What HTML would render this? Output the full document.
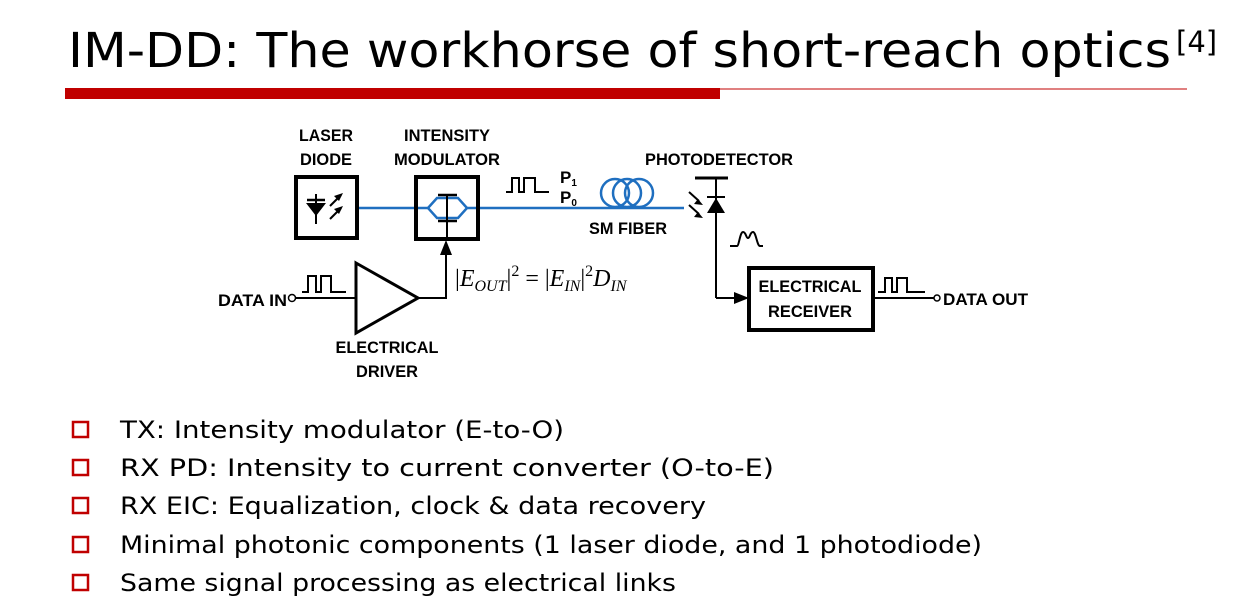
<!DOCTYPE html>
<html><head><meta charset="utf-8"><style>
html,body{margin:0;padding:0;background:#fff;}
svg{display:block;}
.t{font-family:"DejaVu Sans","Liberation Sans",sans-serif;}
.l{font-family:"Liberation Sans",Arial,sans-serif;font-weight:bold;font-size:17px;}
.m{font-family:"Liberation Serif","DejaVu Serif",serif;font-size:24px;}
</style></head><body>
<svg width="1259" height="613" viewBox="0 0 1259 613" xmlns="http://www.w3.org/2000/svg">
<text class="t" x="68" y="67" font-size="48" textLength="1103" lengthAdjust="spacingAndGlyphs">IM-DD: The workhorse of short-reach optics</text>
<text class="t" x="1176" y="52" font-size="29">[4]</text>
<rect x="65" y="88" width="655" height="11" fill="#c00000"/>
<line x1="720" y1="89" x2="1187" y2="89" stroke="#c00000" stroke-width="1"/>

<g class="l" text-anchor="middle">
<text x="326" y="141" textLength="54" lengthAdjust="spacingAndGlyphs">LASER</text><text x="326" y="165" textLength="52" lengthAdjust="spacingAndGlyphs">DIODE</text>
<text x="447" y="141" textLength="86" lengthAdjust="spacingAndGlyphs">INTENSITY</text><text x="447" y="165" textLength="106" lengthAdjust="spacingAndGlyphs">MODULATOR</text>
<text x="719" y="165" textLength="148" lengthAdjust="spacingAndGlyphs">PHOTODETECTOR</text>
<text x="628" y="234" textLength="78" lengthAdjust="spacingAndGlyphs">SM FIBER</text>
<text x="387" y="353" textLength="103" lengthAdjust="spacingAndGlyphs">ELECTRICAL</text><text x="387" y="377" textLength="62" lengthAdjust="spacingAndGlyphs">DRIVER</text>
<text x="810" y="292" textLength="103" lengthAdjust="spacingAndGlyphs">ELECTRICAL</text><text x="810" y="317" textLength="84" lengthAdjust="spacingAndGlyphs">RECEIVER</text>
</g>
<text class="l" x="218" y="306" textLength="69" lengthAdjust="spacingAndGlyphs">DATA IN</text>
<text class="l" x="943" y="305" textLength="85" lengthAdjust="spacingAndGlyphs">DATA OUT</text>
<text class="l" x="560" y="183" font-size="15">P<tspan font-size="10" dy="3">1</tspan></text>
<text class="l" x="560" y="203" font-size="15">P<tspan font-size="10" dy="3">0</tspan></text>

<g stroke="#1f6fc0" stroke-width="2.5" fill="none">
<line x1="358" y1="208" x2="428" y2="208"/>
<path d="M428 208 L437 198 L458 198 L467 208 L458 218 L437 218 Z"/>
<line x1="467" y1="208" x2="684" y2="208"/>
<circle cx="615" cy="193" r="14"/><circle cx="627" cy="193" r="14"/><circle cx="639" cy="193" r="14"/>
</g>

<g stroke="#000" fill="none">
<rect x="296" y="177" width="61" height="61" stroke-width="4"/>
<rect x="416" y="177" width="62" height="62" stroke-width="4"/>
<rect x="749" y="268" width="124" height="62" stroke-width="4"/>
<line x1="438" y1="195" x2="457" y2="195" stroke-width="2.5"/>
<line x1="438" y1="221" x2="457" y2="221" stroke-width="2.5"/>
<line x1="447" y1="195" x2="447" y2="240" stroke-width="2"/>
<line x1="316" y1="194" x2="316" y2="224" stroke-width="2"/>
<line x1="307" y1="200" x2="325" y2="200" stroke-width="2.5"/>
<line x1="330" y1="206" x2="341" y2="195" stroke-width="2"/>
<line x1="330" y1="219" x2="341" y2="208" stroke-width="2"/>
<path d="M356 263 L418 298 L356 333 Z" stroke-width="3"/>
<line x1="296" y1="298" x2="356" y2="298" stroke-width="2"/>
<polyline points="418,298 446,298 446,250" stroke-width="2"/>
<circle cx="292" cy="298" r="3.5" stroke-width="1.5"/>
<polyline points="302,292 308,292 308,276 316,276 316,292 321,292 321,276 331,276 331,292 346,292" stroke-width="2"/>
<polyline points="506,192 512,192 512,178 519,178 519,192 524,192 524,178 535,178 535,192 549,192" stroke-width="2"/>
<line x1="695" y1="178" x2="728" y2="178" stroke-width="3"/>
<line x1="716" y1="178" x2="716" y2="298" stroke-width="2"/>
<line x1="707" y1="197" x2="725" y2="197" stroke-width="2"/>
<line x1="689" y1="192" x2="699" y2="201" stroke-width="2"/>
<line x1="689" y1="205" x2="699" y2="214" stroke-width="2"/>
<line x1="716" y1="298" x2="736" y2="298" stroke-width="2"/>
<path d="M730 246 L737 246 C739 246 740 232 743 232 C746 232 746 238 748 238 C750 238 750 232 753 232 C756 232 757 246 760 246 L763 246" stroke-width="2"/>
<line x1="873" y1="298" x2="934" y2="298" stroke-width="2"/>
<circle cx="937" cy="298" r="3" stroke-width="1.5"/>
<polyline points="878,292 885,292 885,278 892,278 892,292 897,292 897,278 907,278 907,292 925,292" stroke-width="2"/>
</g>
<g fill="#000">
<path d="M306 203 L326 203 L316 216 Z"/>
<path d="M343 193 L334 196 L339 201 Z"/>
<path d="M343 206 L334 209 L339 214 Z"/>
<path d="M446 240 L440 255 L452 255 Z"/>
<path d="M707 213 L725 213 L716 198 Z"/>
<path d="M703 205 L694 204 L698 199 Z"/>
<path d="M703 218 L694 217 L698 212 Z"/>
<path d="M749 298 L734 292 L734 304 Z"/>
</g>
<text class="m" x="455" y="286"><tspan>|</tspan><tspan font-style="italic">E</tspan><tspan font-style="italic" font-size="16" dy="5">OUT</tspan><tspan dy="-5">|</tspan><tspan font-size="16" dy="-10">2</tspan><tspan dy="10"> = |</tspan><tspan font-style="italic">E</tspan><tspan font-style="italic" font-size="16" dy="5">IN</tspan><tspan dy="-5">|</tspan><tspan font-size="16" dy="-10">2</tspan><tspan font-style="italic" dy="10">D</tspan><tspan font-style="italic" font-size="16" dy="5">IN</tspan></text>

<g fill="none" stroke="#c00000" stroke-width="2.5">
<rect x="73" y="422" width="15" height="15"/>
<rect x="73" y="460" width="15" height="15"/>
<rect x="73" y="498" width="15" height="15"/>
<rect x="73" y="537" width="15" height="15"/>
<rect x="73" y="575" width="15" height="15"/>
</g>
<g class="t" font-size="24">
<text x="120" y="438" textLength="444" lengthAdjust="spacingAndGlyphs">TX: Intensity modulator (E-to-O)</text>
<text x="120" y="476" textLength="654" lengthAdjust="spacingAndGlyphs">RX PD: Intensity to current converter (O-to-E)</text>
<text x="120" y="514" textLength="586" lengthAdjust="spacingAndGlyphs">RX EIC: Equalization, clock &amp; data recovery</text>
<text x="120" y="553" textLength="862" lengthAdjust="spacingAndGlyphs">Minimal photonic components (1 laser diode, and 1 photodiode)</text>
<text x="120" y="591" textLength="556" lengthAdjust="spacingAndGlyphs">Same signal processing as electrical links</text>
</g>
</svg>
</body></html>
